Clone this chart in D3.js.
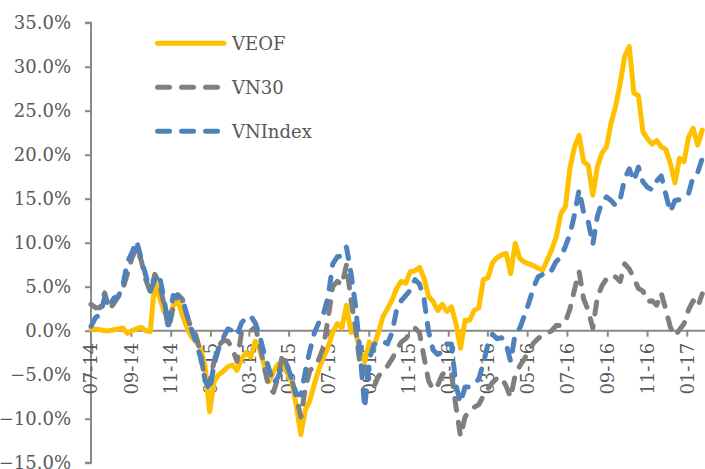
<!DOCTYPE html>
<html>
<head>
<meta charset="utf-8">
<script src="https://cdn.jsdelivr.net/npm/d3@7"></script>
<style>
  html, body { margin: 0; padding: 0; background: #fff; }
  svg { display: block; }
  text { font-family: "DejaVu Serif", "Liberation Serif", serif; fill: #595959; }
</style>
</head>
<body>
<svg id="chart" width="705" height="469"></svg>
<script>
// ---- data (weekly observations starting 07-2014) ----
const seriesNames = ["VEOF", "VN30", "VNIndex"];
const startDate = "2014-07-01";

const veof = [
  0.2, 0.2, 0.1, 0.0, 0.0, 0.1, 0.2, 0.3, -0.3, 0.0,
  0.2, 0.4, 0.0, -0.1, 5.6, 3.8, 2.2, 1.6, 2.8, 3.6,
  1.8, 0.4, -0.7, -1.2, -2.0, -4.0, -9.2, -5.8, -5.0, -4.6,
  -4.1, -3.9, -4.5, -3.2, -2.5, -3.0, -1.2, -2.2, -4.0, -5.8,
  -4.7, -3.8, -4.0, -4.8, -5.8, -8.5, -11.8, -9.0, -7.9, -6.0,
  -4.3, -3.0, -1.8, -0.2, 0.8, 0.3, 2.9, -0.2, 0.0, -2.5,
  -3.5, -1.3, -1.8, -0.2, 1.6, 2.5, 3.5, 4.8, 5.6, 5.4,
  6.7, 6.8, 7.2, 6.0, 3.9, 3.3, 2.3, 3.0, 2.2, 2.7,
  0.8, -2.0, 1.2, 1.2, 2.3, 2.6, 5.8, 6.0, 7.7, 8.3,
  8.6, 8.8, 6.5, 9.9, 8.2, 7.8, 7.6, 7.4, 7.1, 6.9,
  8.0, 9.2, 10.7, 13.3, 14.1, 18.5, 20.9, 22.2, 19.2, 18.8,
  15.4, 18.6, 20.2, 20.9, 23.6, 25.5, 28.1, 31.2, 32.3, 27.0,
  26.7, 22.6, 21.8, 21.2, 21.6, 20.9, 20.6, 19.0, 16.8, 19.6,
  19.2, 22.0, 23.0, 21.1, 22.8
];

const vn30 = [
  3.0, 2.6, 2.6, 4.3, 2.4, 3.1, 3.9, 4.8, 6.5, 8.3,
  9.4, 8.0, 5.8, 4.4, 6.4, 5.4, 3.0, 0.2, 2.6, 4.1,
  3.6, 1.8, 0.2, -0.5, -2.5, -5.7, -6.1, -3.4, -1.7, -1.1,
  -1.2, -2.0, -3.5, -0.2, -0.3, 0.0, 0.4, -1.5, -4.2, -6.5,
  -7.0, -5.3, -2.6, -4.0, -5.5, -7.5, -9.8, -6.5, -4.5, -4.1,
  -3.2, -1.8, 1.5, 5.0, 5.6, 5.2, 7.5, 3.5, 0.2, -4.0,
  -4.0, -5.8, -6.4, -5.2, -4.6, -4.0, -3.2, -2.2, -1.3, -0.9,
  -0.3, 0.3, -0.2, -3.0, -5.7, -6.7, -6.2, -5.0, -4.5, -4.8,
  -8.6, -12.0, -9.8, -9.1, -8.7, -8.4, -7.4, -6.6, -5.9, -5.4,
  -5.3, -6.3, -7.6, -5.0, -4.0, -3.2, -2.3, -1.4, -0.9, -0.5,
  -0.3, 0.0, 0.6, 0.6, 1.0, 2.5, 4.7, 6.7, 3.6, 2.3,
  0.3, 3.8, 5.1, 5.9, 6.3, 6.1, 5.6, 7.6, 7.0, 6.0,
  4.8, 4.5, 3.3, 3.4, 2.9, 4.3, 2.4, 0.4, -0.6, 0.1,
  0.8, 2.4, 3.4, 2.7, 4.2
];

const vnindex = [
  0.5, 1.5, 1.8, 3.8, 2.8, 3.7, 3.9, 5.2, 7.8, 8.9,
  10.2, 8.2, 6.3, 4.5, 5.8, 6.3, 3.6, 0.5, 4.0, 3.9,
  3.8, 1.8, 0.2, -1.3, -3.0, -5.6, -6.8, -3.8, -2.0, -0.8,
  0.2, 0.0, -0.5, 0.9, 1.5, 1.7, 0.9, -0.6, -2.7, -4.3,
  -6.0, -5.3, -3.8, -4.0, -5.5, -7.2, -7.3, -4.6, -2.2, -0.2,
  1.0, 2.0, 3.9, 7.6, 8.4, 8.5, 9.5, 6.5, 2.8, -2.6,
  -8.8, -3.3, -1.6, -1.2, -1.2, -1.5, -0.2, 2.4, 3.4, 4.0,
  4.6, 5.8, 5.3, 3.6, -0.1, -2.2, -2.7, -2.4, -1.5, -1.5,
  -6.2, -8.2, -6.4, -6.4, -6.0, -5.5, -3.7, -1.6, -0.4, -0.9,
  -0.8, -1.5, -3.5, -0.3, 0.3, 1.7, 3.2, 4.9, 6.1, 6.4,
  6.3, 6.9, 7.9, 8.3, 9.6, 11.0, 13.2, 16.0, 13.4, 12.4,
  9.8, 13.0, 14.6, 15.2, 14.8, 14.2, 14.9, 17.3, 18.4, 17.0,
  18.6, 16.9, 16.3, 16.0, 17.0, 17.6, 15.5, 13.5, 14.8, 14.9,
  15.2, 15.6, 17.5, 18.0, 19.6
];

const xTickLabels = ["07-14","09-14","11-14","01-15","03-15","05-15","07-15","09-15",
                     "11-15","01-16","03-16","05-16","07-16","09-16","11-16","01-17"];
const yTicks = [-15, -10, -5, 0, 5, 10, 15, 20, 25, 30, 35];

const colors = { VEOF: "#FFC000", VN30: "#7F7F7F", VNIndex: "#4F81BD" };

// ---- build ----
const svg = d3.select("#chart");
const parseTick = d3.timeParse("%m-%y");
const start = d3.timeParse("%Y-%m-%d")(startDate);
const dates = veof.map((_, i) => d3.timeDay.offset(start, 7 * i));

const x = d3.scaleTime()
  .domain([parseTick("07-14"), parseTick("01-17")])
  .range([91, 687.3]);
const y = d3.scaleLinear().domain([-15, 35]).range([462.7, 22.7]);

const axisColor = "#898989";

// Y axis
const yAxis = svg.append("g")
  .attr("transform", "translate(91,0)")
  .call(d3.axisLeft(y).tickValues(yTicks).tickSize(6).tickPadding(14)
        .tickFormat(d => d3.format(".1f")(d) + "%"));
yAxis.select(".domain").attr("stroke", axisColor).attr("stroke-width", 2)
  .attr("d", `M-6,${y(35)}H0V${y(-15)}H-6`);
yAxis.selectAll(".tick line").attr("stroke", axisColor).attr("stroke-width", 2);
yAxis.selectAll(".tick text").attr("font-size", 18).attr("fill", "#595959")
  .attr("font-family", "DejaVu Serif");

// X axis at zero (labels sit beneath the lines)
const xAxis = svg.append("g").attr("transform", `translate(0,${y(0)})`);
xAxis.append("line").attr("x1", 91).attr("x2", 705).attr("y1", 0).attr("y2", 0)
  .attr("stroke", axisColor).attr("stroke-width", 2);
const xt = xAxis.selectAll("g.xt").data(xTickLabels).join("g")
  .attr("class", "xt")
  .attr("transform", d => `translate(${x(parseTick(d))},0)`);
xt.append("line").attr("y1", 0).attr("y2", 6).attr("stroke", axisColor).attr("stroke-width", 2);
xt.append("text")
  .attr("transform", "rotate(-90)")
  .attr("x", -12).attr("dy", "0.35em")
  .attr("text-anchor", "end")
  .attr("font-size", 18)
  .text(d => d);

// lines
const line = d3.line().x((d, i) => x(dates[i])).y(d => y(d));
const seriesData = { VEOF: veof, VN30: vn30, VNIndex: vnindex };
seriesNames.forEach(name => {
  svg.append("path")
    .attr("d", line(seriesData[name]))
    .attr("fill", "none")
    .attr("stroke", colors[name])
    .attr("stroke-width", 5)
    .attr("stroke-linejoin", "round")
    .attr("stroke-linecap", "round")
    .attr("stroke-dasharray", name === "VEOF" ? null : "12,12");
});

// legend
const legend = svg.append("g");
seriesNames.forEach((name, i) => {
  const ly = 43.3 + i * 44;
  legend.append("line")
    .attr("x1", 157.5).attr("x2", 224).attr("y1", ly).attr("y2", ly)
    .attr("stroke", colors[name]).attr("stroke-width", 5)
    .attr("stroke-linecap", "round")
    .attr("stroke-dasharray", name === "VEOF" ? null : "12,12");
  legend.append("text")
    .attr("x", 232).attr("y", ly).attr("dy", "0.35em")
    .attr("font-size", 18)
    .text(name);
});
</script>
</body>
</html>
